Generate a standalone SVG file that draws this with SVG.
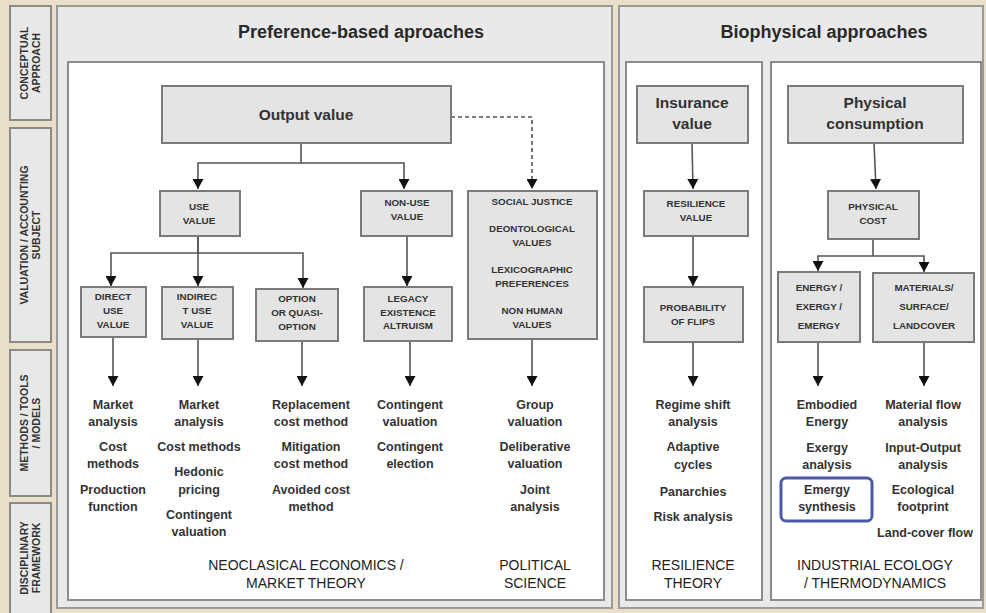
<svg xmlns="http://www.w3.org/2000/svg" width="986" height="613" viewBox="0 0 986 613">
<style>
.tab{fill:#e8e8e8;stroke:#8a8a86;stroke-width:2}
.tabt{font-family:"Liberation Sans",Arial,sans-serif;font-size:10.5px;font-weight:bold;fill:#333;text-anchor:middle}
.panel{fill:#e9e9e9;stroke:#9a9a9a;stroke-width:2}
.inner{fill:#fff;stroke:#8c8c8c;stroke-width:2}
.head{font-family:"Liberation Sans",Arial,sans-serif;font-size:18px;font-weight:bold;fill:#2a2a2a;text-anchor:middle}
.box{fill:#e4e4e4;stroke:#7a7a7a;stroke-width:2}
.big{font-family:"Liberation Sans",Arial,sans-serif;font-size:15.5px;font-weight:bold;fill:#333;text-anchor:middle}
.sm{font-family:"Liberation Sans",Arial,sans-serif;font-size:9.8px;font-weight:bold;fill:#333;text-anchor:middle}
.m{font-family:"Liberation Sans",Arial,sans-serif;font-size:12.5px;font-weight:bold;fill:#333;text-anchor:middle}
.ft{font-family:"Liberation Sans",Arial,sans-serif;font-size:14px;fill:#222;text-anchor:middle}
.ln{fill:none;stroke:#555;stroke-width:1.6}
.dash{fill:none;stroke:#555;stroke-width:1.6;stroke-dasharray:4 3}
</style>
<defs>
<marker id="a" markerUnits="userSpaceOnUse" markerWidth="11" markerHeight="11" refX="10" refY="5.5" orient="auto" viewBox="0 0 11 11">
<path d="M0,0 L10,5.5 L0,11 Z" fill="#111"/>
</marker>
</defs>
<rect width="986" height="613" fill="#eadfc9"/>

<g id="tabs">
<rect class="tab" x="10" y="6" width="41" height="114"/>
<text class="tabt" transform="translate(28 63) rotate(-90)">CONCEPTUAL</text>
<text class="tabt" transform="translate(40 63) rotate(-90)">APPROACH</text>
<rect class="tab" x="10" y="128" width="41" height="214"/>
<text class="tabt" transform="translate(28 235) rotate(-90)">VALUATION / ACCOUNTING</text>
<text class="tabt" transform="translate(40 235) rotate(-90)">SUBJECT</text>
<rect class="tab" x="10" y="350" width="41" height="146"/>
<text class="tabt" transform="translate(28 423) rotate(-90)">METHODS / TOOLS</text>
<text class="tabt" transform="translate(40 423) rotate(-90)">/ MODELS</text>
<rect class="tab" x="10" y="503" width="41" height="112"/>
<text class="tabt" transform="translate(28 558) rotate(-90)">DISCIPLINARY</text>
<text class="tabt" transform="translate(40 558) rotate(-90)">FRAMEWORK</text>
</g>

<g id="panel-preference">
<rect class="panel" x="57" y="6" width="555" height="602"/>
<text class="head" x="361" y="38">Preference-based aproaches</text>
<rect class="inner" x="68" y="62" width="536" height="538"/>
</g>
<g id="panel-biophysical">
<rect class="panel" x="619" y="6" width="364" height="602"/>
<text class="head" x="824" y="38">Biophysical approaches</text>
<rect class="inner" x="626" y="62" width="136" height="538"/>
<rect class="inner" x="771" y="62" width="210" height="538"/>
</g>

<g id="connectors">
<path class="ln" d="M301,143 V163 H198 V189" marker-end="url(#a)"/>
<path class="ln" d="M301,163 H404 V189" marker-end="url(#a)"/>
<path class="dash" d="M451,117 H532 V189" marker-end="url(#a)"/>
<path class="ln" d="M198,236 V253 H111 V286" marker-end="url(#a)"/>
<path class="ln" d="M198,236 V286" marker-end="url(#a)"/>
<path class="ln" d="M198,253 H303 V288" marker-end="url(#a)"/>
<path class="ln" d="M407,236 V286" marker-end="url(#a)"/>
<path class="ln" d="M113,337 V386" marker-end="url(#a)"/>
<path class="ln" d="M198,339 V386" marker-end="url(#a)"/>
<path class="ln" d="M302,341 V386" marker-end="url(#a)"/>
<path class="ln" d="M410,341 V386" marker-end="url(#a)"/>
<path class="ln" d="M532,339 V386" marker-end="url(#a)"/>
<path class="ln" d="M692,143 L693,189" marker-end="url(#a)"/>
<path class="ln" d="M693,236 V286" marker-end="url(#a)"/>
<path class="ln" d="M693,342 V386" marker-end="url(#a)"/>
<path class="ln" d="M874,143 L876,189" marker-end="url(#a)"/>
<path class="ln" d="M873,239 V256 H818 V271" marker-end="url(#a)"/>
<path class="ln" d="M873,256 H924 V272" marker-end="url(#a)"/>
<path class="ln" d="M818,342 V386" marker-end="url(#a)"/>
<path class="ln" d="M924,342 V386" marker-end="url(#a)"/>
</g>

<g id="output-value">
<rect class="box" x="162" y="86" width="289" height="57"/>
<text class="big" x="306" y="120">Output value</text>
</g>
<g id="use-value">
<rect class="box" x="160" y="191" width="80" height="45"/>
<text class="sm" x="199" y="210">USE</text>
<text class="sm" x="199" y="224">VALUE</text>
</g>
<g id="non-use-value">
<rect class="box" x="361" y="191" width="91" height="45"/>
<text class="sm" x="407" y="206">NON-USE</text>
<text class="sm" x="407" y="220">VALUE</text>
</g>
<g id="social-justice">
<rect class="box" x="468" y="191" width="129" height="148"/>
<text class="sm" x="532" y="205">SOCIAL JUSTICE</text>
<text class="sm" x="532" y="232">DEONTOLOGICAL</text>
<text class="sm" x="532" y="246">VALUES</text>
<text class="sm" x="532" y="273">LEXICOGRAPHIC</text>
<text class="sm" x="532" y="287">PREFERENCES</text>
<text class="sm" x="532" y="314">NON HUMAN</text>
<text class="sm" x="532" y="328">VALUES</text>
</g>
<g id="direct-use">
<rect class="box" x="81" y="287" width="65" height="50"/>
<text class="sm" x="113" y="300">DIRECT</text>
<text class="sm" x="113" y="314">USE</text>
<text class="sm" x="113" y="328">VALUE</text>
</g>
<g id="indirect-use">
<rect class="box" x="162" y="287" width="71" height="52"/>
<text class="sm" x="197" y="300">INDIREC</text>
<text class="sm" x="197" y="314">T USE</text>
<text class="sm" x="197" y="328">VALUE</text>
</g>
<g id="option">
<rect class="box" x="256" y="289" width="82" height="52"/>
<text class="sm" x="297" y="302">OPTION</text>
<text class="sm" x="297" y="316">OR QUASI-</text>
<text class="sm" x="297" y="330">OPTION</text>
</g>
<g id="legacy">
<rect class="box" x="364" y="287" width="88" height="54"/>
<text class="sm" x="408" y="302">LEGACY</text>
<text class="sm" x="408" y="316">EXISTENCE</text>
<text class="sm" x="408" y="329">ALTRUISM</text>
</g>

<g id="methods-pref">
<text class="m" x="113" y="409">Market</text>
<text class="m" x="113" y="426">analysis</text>
<text class="m" x="113" y="451">Cost</text>
<text class="m" x="113" y="468">methods</text>
<text class="m" x="113" y="494">Production</text>
<text class="m" x="113" y="511">function</text>
<text class="m" x="199" y="409">Market</text>
<text class="m" x="199" y="426">analysis</text>
<text class="m" x="199" y="451">Cost methods</text>
<text class="m" x="199" y="476">Hedonic</text>
<text class="m" x="199" y="494">pricing</text>
<text class="m" x="199" y="519">Contingent</text>
<text class="m" x="199" y="536">valuation</text>
<text class="m" x="311" y="409">Replacement</text>
<text class="m" x="311" y="426">cost method</text>
<text class="m" x="311" y="451">Mitigation</text>
<text class="m" x="311" y="468">cost method</text>
<text class="m" x="311" y="494">Avoided cost</text>
<text class="m" x="311" y="511">method</text>
<text class="m" x="410" y="409">Contingent</text>
<text class="m" x="410" y="426">valuation</text>
<text class="m" x="410" y="451">Contingent</text>
<text class="m" x="410" y="468">election</text>
<text class="m" x="535" y="409">Group</text>
<text class="m" x="535" y="426">valuation</text>
<text class="m" x="535" y="451">Deliberative</text>
<text class="m" x="535" y="468">valuation</text>
<text class="m" x="535" y="494">Joint</text>
<text class="m" x="535" y="511">analysis</text>
</g>
<g id="footer-pref">
<text class="ft" x="306" y="570">NEOCLASICAL ECONOMICS /</text>
<text class="ft" x="306" y="588">MARKET THEORY</text>
<text class="ft" x="535" y="570">POLITICAL</text>
<text class="ft" x="535" y="588">SCIENCE</text>
</g>

<g id="insurance-value">
<rect class="box" x="637" y="86" width="111" height="57"/>
<text class="big" x="692" y="108">Insurance</text>
<text class="big" x="692" y="129">value</text>
</g>
<g id="resilience-value">
<rect class="box" x="644" y="191" width="104" height="45"/>
<text class="sm" x="696" y="207">RESILIENCE</text>
<text class="sm" x="696" y="221">VALUE</text>
</g>
<g id="probability-flips">
<rect class="box" x="644" y="287" width="99" height="55"/>
<text class="sm" x="693" y="311">PROBABILITY</text>
<text class="sm" x="693" y="325">OF FLIPS</text>
</g>
<g id="methods-resilience">
<text class="m" x="693" y="409">Regime shift</text>
<text class="m" x="693" y="426">analysis</text>
<text class="m" x="693" y="451">Adaptive</text>
<text class="m" x="693" y="469">cycles</text>
<text class="m" x="693" y="496">Panarchies</text>
<text class="m" x="693" y="521">Risk analysis</text>
</g>
<g id="footer-resilience">
<text class="ft" x="693" y="570">RESILIENCE</text>
<text class="ft" x="693" y="588">THEORY</text>
</g>

<g id="physical-consumption">
<rect class="box" x="788" y="86" width="175" height="57"/>
<text class="big" x="875" y="108">Physical</text>
<text class="big" x="875" y="129">consumption</text>
</g>
<g id="physical-cost">
<rect class="box" x="828" y="191" width="91" height="48"/>
<text class="sm" x="873" y="210">PHYSICAL</text>
<text class="sm" x="873" y="224">COST</text>
</g>
<g id="energy">
<rect class="box" x="778" y="272" width="82" height="70"/>
<text class="sm" x="819" y="291">ENERGY /</text>
<text class="sm" x="819" y="310">EXERGY /</text>
<text class="sm" x="819" y="329">EMERGY</text>
</g>
<g id="materials">
<rect class="box" x="873" y="273" width="101" height="69"/>
<text class="sm" x="924" y="291">MATERIALS/</text>
<text class="sm" x="924" y="310">SURFACE/</text>
<text class="sm" x="924" y="329">LANDCOVER</text>
</g>
<g id="methods-industrial">
<text class="m" x="827" y="409">Embodied</text>
<text class="m" x="827" y="426">Energy</text>
<text class="m" x="827" y="452">Exergy</text>
<text class="m" x="827" y="469">analysis</text>
<text class="m" x="827" y="494">Emergy</text>
<text class="m" x="827" y="511">synthesis</text>
<rect x="781" y="478" width="91" height="43" rx="5" fill="none" stroke="#4b5aa8" stroke-width="3"/>
<text class="m" x="923" y="409">Material flow</text>
<text class="m" x="923" y="426">analysis</text>
<text class="m" x="923" y="452">Input-Output</text>
<text class="m" x="923" y="469">analysis</text>
<text class="m" x="923" y="494">Ecological</text>
<text class="m" x="923" y="511">footprint</text>
<text class="m" x="925" y="537">Land-cover flow</text>
</g>
<g id="footer-industrial">
<text class="ft" x="875" y="570">INDUSTRIAL ECOLOGY</text>
<text class="ft" x="875" y="588">/ THERMODYNAMICS</text>
</g>
</svg>
